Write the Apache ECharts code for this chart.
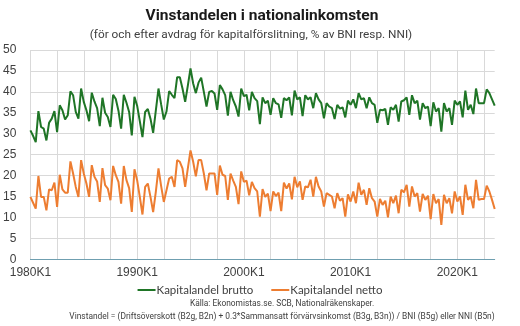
<!DOCTYPE html>
<html><head><meta charset="utf-8">
<script src="https://cdn.jsdelivr.net/npm/echarts@6/dist/echarts.min.js"></script>
<style>html,body{margin:0;padding:0;background:#fff}#c{width:520px;height:326px}</style>
</head><body><div id="c"></div>
<script>
// Quarterly categories 1980K1 .. 2023K3
const startYear = 1980;
const nPoints = 175;
const categories = [];
for (let i = 0; i < nPoints; i++) categories.push((startYear + Math.floor(i / 4)) + 'K' + (i % 4 + 1));

const yTicks = [0, 5, 10, 15, 20, 25, 30, 35, 40, 45, 50];

const brutto = [
30.8,29.5,28.0,35.4, 31.6,31.2,28.4,32.6, 33.6,35.4,30.4,36.8, 35.6,33.4,34.4,40.1,
39.2,35.2,33.6,40.8, 37.6,35.6,33.0,39.8, 37.7,36.1,31.8,38.6, 35.0,34.0,31.6,39.3,
38.3,35.5,31.2,39.3, 37.4,35.2,29.6,38.8, 36.7,33.0,29.2,35.2, 35.9,33.6,30.2,35.5,
40.8,37.0,33.4,35.3, 40.2,39.3,38.5,43.5, 43.5,40.8,37.6,41.5, 45.6,42.0,39.7,42.2,
43.4,40.0,36.5,40.0, 40.2,39.6,35.7,41.6, 40.6,39.2,34.3,40.0, 38.0,36.5,34.1,40.8,
39.0,39.3,35.6,40.0, 38.5,37.8,32.3,38.7, 37.3,37.9,34.5,38.5, 37.3,37.0,33.8,38.5,
38.0,38.7,34.4,40.3, 38.2,38.7,34.2,39.2, 38.2,38.7,36.1,39.7, 38.2,37.3,33.7,37.3,
36.5,36.1,33.5,36.9, 36.0,36.3,33.9,37.9, 36.9,38.2,36.1,39.7, 38.2,38.5,36.1,38.7,
37.3,36.9,32.6,35.7, 35.6,35.9,32.1,36.3, 35.7,36.9,32.9,37.7, 38.0,38.7,34.5,39.2,
37.3,37.9,33.4,37.3, 36.1,36.5,31.8,37.5, 35.3,36.1,30.5,37.3, 35.3,36.1,32.1,37.9,
36.9,37.7,33.9,40.3, 35.7,36.9,34.7,40.8, 37.3,37.3,37.3,40.6, 39.7,38.2,36.7
];
const netto = [
14.9,13.5,12.1,19.9, 14.9,14.9,11.7,16.7, 16.5,18.3,12.5,20.2, 16.7,15.9,15.9,23.4,
20.5,17.3,14.9,23.7, 20.5,18.1,14.9,22.5, 19.7,18.6,13.7,21.8, 17.7,16.9,14.1,22.3,
20.1,18.5,13.3,22.3, 18.9,17.0,11.3,21.5, 18.9,14.9,10.7,17.3, 18.1,14.9,11.3,16.1,
21.7,17.5,13.7,16.5, 19.3,19.7,17.3,23.7, 23.3,21.7,17.3,21.7, 26.0,23.3,19.8,23.7,
23.7,20.5,16.5,20.5, 20.5,20.5,15.4,22.4, 20.2,19.9,14.2,20.5, 18.8,17.3,13.2,21.0,
18.5,18.8,15.3,18.5, 17.0,16.2,10.2,16.8, 14.9,15.7,11.5,16.2, 15.1,15.9,11.5,18.3,
16.9,18.1,14.3,19.7, 17.2,18.6,14.2,17.4, 17.2,19.0,15.0,19.7, 17.4,16.2,12.6,15.8,
15.4,15.0,12.2,15.8, 14.0,14.6,10.2,15.5, 13.8,16.2,13.4,18.3, 15.4,16.6,13.0,17.0,
14.6,13.8,10.2,14.4, 13.0,14.0,10.0,15.0, 13.4,15.2,11.0,16.6, 16.0,17.8,12.6,17.4,
15.0,15.8,11.4,15.6, 14.2,15.2,9.6,15.6, 13.4,14.4,8.2,15.4, 13.4,14.6,11.0,16.2,
13.8,15.0,10.6,17.8, 14.2,15.0,12.2,19.0, 14.2,14.4,14.4,17.6, 16.2,14.2,12.0
];

const seriesNames = ['Kapitalandel brutto', 'Kapitalandel netto'];
const colors = ['#1f7526', '#ed7d31'];
const titleText = 'Vinstandelen i nationalinkomsten';
const subtitleText = '(för och efter avdrag för kapitalförslitning, % av BNI resp. NNI)';
const sourceText = 'Källa: Ekonomistas.se. SCB, Nationalräkenskaper.';
const noteText = 'Vinstandel = (Driftsöverskott (B2g, B2n) + 0.3*Sammansatt förvärvsinkomst (B3g, B3n)) / BNI (B5g) eller NNI (B5n)';

const chart = echarts.init(document.getElementById('c'), null, {renderer: 'canvas'});
chart.setOption({
  animation: false,
  backgroundColor: '#fff',
  grid: {left: 30.4, right: 25.3, top: 50, bottom: 66.7, containLabel: false},
  xAxis: {
    type: 'category', data: categories, boundaryGap: false,
    axisLine: {show: true, lineStyle: {color: '#6f9fb0', width: 1}},
    axisTick: {show: false},
    axisLabel: {interval: 39, color: '#404040', fontSize: 12, fontFamily: 'Liberation Sans', margin: 7},
    splitLine: {show: true, interval: 9, lineStyle: {color: '#d9d9d9', width: 1}}
  },
  yAxis: {
    type: 'value', min: yTicks[0], max: yTicks[yTicks.length - 1], interval: 5,
    axisLine: {show: false}, axisTick: {show: false},
    axisLabel: {color: '#404040', fontSize: 12, fontFamily: 'Liberation Sans', margin: 14},
    splitLine: {show: true, lineStyle: {color: '#d9d9d9', width: 1}}
  },
  legend: {
    data: seriesNames, top: 279, left: 'center', icon: 'rect', itemWidth: 18, itemHeight: 2,
    itemGap: 18, textStyle: {color: '#404040', fontSize: 11.5, fontFamily: 'Lato', padding: [0, 0, 0, -4]}
  },
  graphic: [
    {type: 'text', x: 262, y: 16, style: {text: titleText, align: 'center', verticalAlign: 'middle', font: 'bold 15.5px Roboto', fill: '#1a1a1a'}},
    {type: 'text', x: 251, y: 35, style: {text: subtitleText, align: 'center', verticalAlign: 'middle', font: '11.8px Roboto', fill: '#404040'}},
    {type: 'text', x: 282, y: 303.5, style: {text: sourceText, align: 'center', verticalAlign: 'middle', font: '8.4px Roboto', fill: '#404040'}},
    {type: 'text', x: 282, y: 317, style: {text: noteText, align: 'center', verticalAlign: 'middle', font: '8.4px Roboto', fill: '#404040'}}
  ],
  series: [
    {name: seriesNames[0], type: 'line', data: brutto, symbol: 'none', lineStyle: {color: colors[0], width: 2}, itemStyle: {color: colors[0]}},
    {name: seriesNames[1], type: 'line', data: netto, symbol: 'none', lineStyle: {color: colors[1], width: 2}, itemStyle: {color: colors[1]}}
  ]
});
</script></body></html>
